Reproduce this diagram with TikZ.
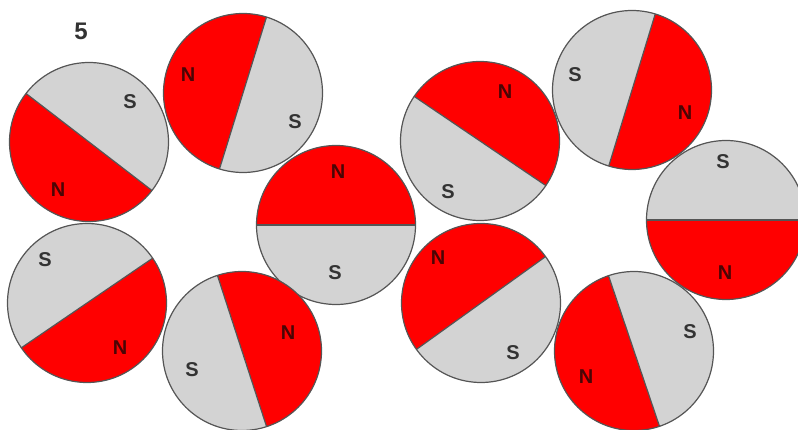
\documentclass[tikz,border=0pt]{standalone}
\usepackage{fontspec}
\setsansfont{Liberation Sans}
\usepackage{tikz}
\usetikzlibrary{calc}
\definecolor{polered}{HTML}{FF0000}
\definecolor{polegrey}{HTML}{D3D3D3}
\definecolor{rimgrey}{HTML}{555555}
\definecolor{inkgrey}{HTML}{333333}
\definecolor{inkred}{HTML}{4A0505}

\tikzset{
  northhalf/.style={fill=polered},
  southhalf/.style={fill=polegrey},
  rim/.style={draw=rimgrey,line width=1.2pt},
  pole/.style={font=\sffamily\bfseries\fontsize{20}{20}\selectfont,text=inkgrey,inner sep=0pt},
}
\newcommand{\magrad}{79.5}
% #1 name, #2 centre, #3 angle where the N half starts, #4 N label, #5 S label
\newcommand{\magnet}[5]{%
  \coordinate (#1) at (#2);
  \fill[northhalf] (#1) ++(#3:\magrad) arc[start angle=#3,end angle=#3+180,radius=\magrad] -- cycle;
  \fill[southhalf] (#1) ++(#3+180:\magrad) arc[start angle=#3+180,end angle=#3+360,radius=\magrad] -- cycle;
  \draw[rim] ($(#1)+(#3:\magrad)$) -- ($(#1)+(#3+180:\magrad)$);
  \draw[rim] (#1) circle[radius=\magrad];
  \node[pole,text=inkred] (#1-n) at (#4) {N};
  \node[pole] (#1-s) at (#5) {S};
}

\begin{document}
\begin{tikzpicture}[x=1pt,y=1pt]
\useasboundingbox (0,0) rectangle (798,-430);
\clip (0,0) rectangle (798,-430);

\node[font=\sffamily\bfseries\fontsize{24}{24}\selectfont,text=inkgrey,inner sep=0pt] (fig) at (81,-31) {5};

% left ring
\magnet{ma}{89,-142}{142.4}{58,-190}{130,-102}
\magnet{mb}{243,-93}{72.8}{188,-75}{295,-122}
\magnet{mc}{336,-225}{0}{338,-172}{335,-273}
\magnet{md}{87,-303}{214.3}{120,-348}{45,-260}
\magnet{me}{242,-351}{-72}{288,-333}{192,-370}

% right ring
\magnet{mf}{480,-141}{-34.1}{505,-92}{448,-192}
\magnet{mg}{632,-90}{-107}{685,-113}{575,-75}
\magnet{mh}{726,-220}{180}{725,-273}{723,-162}
\magnet{mi}{481,-303}{35.7}{438,-258}{513,-353}
\magnet{mj}{634,-351}{108.7}{586,-377}{690,-332}
\end{tikzpicture}
\end{document}
